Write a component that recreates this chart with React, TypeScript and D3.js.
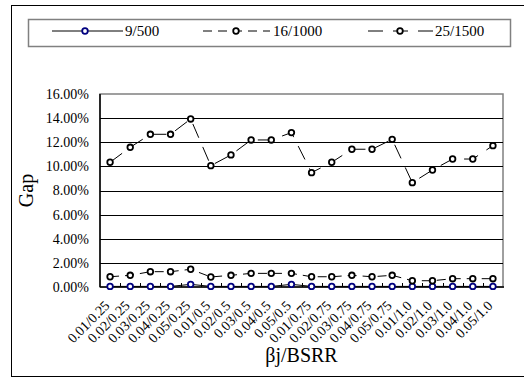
import React from "react";
import * as d3 from "d3";

const categories = [
  "0.01/0.25", "0.02/0.25", "0.03/0.25", "0.04/0.25", "0.05/0.25",
  "0.01/0.5", "0.02/0.5", "0.03/0.5", "0.04/0.5", "0.05/0.5",
  "0.01/0.75", "0.02/0.75", "0.03/0.75", "0.04/0.75", "0.05/0.75",
  "0.01/1.0", "0.02/1.0", "0.03/1.0", "0.04/1.0", "0.05/1.0",
];

// gap values in percent
const gap9_500 = [
  0.05, 0.05, 0.05, 0.05, 0.22, 0.05, 0.05, 0.05, 0.05, 0.22,
  0.05, 0.05, 0.05, 0.05, 0.05, 0.05, 0.05, 0.05, 0.05, 0.05,
];
const gap16_1000 = [
  0.85, 0.97, 1.27, 1.27, 1.47, 0.83, 0.97, 1.13, 1.13, 1.13,
  0.85, 0.85, 0.97, 0.85, 0.97, 0.52, 0.52, 0.69, 0.69, 0.69,
];
const gap25_1500 = [
  10.34, 11.58, 12.66, 12.66, 13.93, 10.06, 10.95, 12.19, 12.19, 12.8,
  9.48, 10.34, 11.42, 11.42, 12.24, 8.65, 9.7, 10.61, 10.61, 11.72,
];

const yTicks = [0, 2, 4, 6, 8, 10, 12, 14, 16];

const seriesList = [
  { name: "9/500", values: gap9_500, marker: "#000080", line: "#000", dash: "" },
  { name: "16/1000", values: gap16_1000, marker: "#000", line: "#000", dash: "9,6" },
  { name: "25/1500", values: gap25_1500, marker: "#000", line: "#000", dash: "15,10" },
];

const W = 524;
const H = 378;
const plot = { left: 100, right: 503, top: 94, bottom: 287 };
const FONT = "'Liberation Serif', 'Times New Roman', serif";

export default function App() {
  const x = d3
    .scaleBand<string>()
    .domain(categories)
    .range([plot.left, plot.right]);
  const y = d3.scaleLinear().domain([0, 16]).range([plot.bottom, plot.top]);

  const cx = (c: string) => (x(c) ?? 0) + x.bandwidth() / 2;

  const line = d3
    .line<number>()
    .x((_, i) => cx(categories[i]))
    .y((d) => y(d));

  // legend layout
  const legendItems = [
    { x1: 52, x2: 123, mx: 85, tx: 125 },
    { x1: 203, x2: 270, mx: 236, tx: 273 },
    { x1: 368, x2: 433, mx: 400, tx: 435 },
  ];
  const legendY = 31;

  return (
    <svg
      width={W}
      height={H}
      style={{ position: "absolute", left: 0, top: 0, background: "#fff" }}
      fontFamily={FONT}
    >
      {/* outer frame */}
      <rect x={11.5} y={5.5} width={520} height={371} fill="#fff" stroke="#000" strokeWidth={1} />

      {/* legend */}
      <rect x={28.5} y={19.5} width={482} height={27} fill="#fff" stroke="#808080" strokeWidth={1.5} />
      {seriesList.map((s, i) => {
        const it = legendItems[i];
        return (
          <g key={s.name}>
            <line
              x1={it.x1}
              x2={it.x2}
              y1={legendY}
              y2={legendY}
              stroke={s.line}
              strokeWidth={1}
              strokeDasharray={s.dash || undefined}
            />
            <circle cx={it.mx} cy={legendY} r={2.8} fill="#fff" stroke={s.marker} strokeWidth={1.8} />
            <text x={it.tx} y={legendY} dy="0.35em" fontSize={15}>
              {s.name}
            </text>
          </g>
        );
      })}

      {/* plot area */}
      <rect
        x={plot.left}
        y={plot.top}
        width={plot.right - plot.left}
        height={plot.bottom - plot.top}
        fill="#fff"
        stroke="#808080"
        strokeWidth={1.5}
      />
      {yTicks.slice(1, -1).map((t) => (
        <line
          key={t}
          x1={plot.left}
          x2={plot.right}
          y1={Math.round(y(t)) + 0.5}
          y2={Math.round(y(t)) + 0.5}
          stroke="#000"
          strokeWidth={1}
        />
      ))}

      {/* series lines */}
      {seriesList.map((s) => (
        <path
          key={s.name}
          d={line(s.values) ?? ""}
          fill="none"
          stroke={s.line}
          strokeWidth={1}
          strokeDasharray={s.dash || undefined}
        />
      ))}

      {/* axes */}
      <line x1={plot.left} x2={plot.left} y1={plot.top} y2={plot.bottom} stroke="#000" strokeWidth={1.5} />
      <line x1={plot.left} x2={plot.right + 1} y1={plot.bottom} y2={plot.bottom} stroke="#000" strokeWidth={1.5} />
      {categories.slice(1).map((c) => (
        <line
          key={c}
          x1={Math.round(x(c) ?? 0) + 0.5}
          x2={Math.round(x(c) ?? 0) + 0.5}
          y1={plot.bottom}
          y2={plot.bottom - 4}
          stroke="#000"
          strokeWidth={1}
        />
      ))}

      {/* markers */}
      {seriesList.map((s) =>
        s.values.map((v, i) => (
          <circle
            key={s.name + i}
            cx={cx(categories[i])}
            cy={y(v)}
            r={2.8}
            fill="#fff"
            stroke={s.marker}
            strokeWidth={1.8}
          />
        ))
      )}

      {/* y tick labels */}
      {yTicks.map((t) => (
        <text key={t} x={89} y={y(t)} dy="0.35em" textAnchor="end" fontSize={14}>
          {t.toFixed(2)}%
        </text>
      ))}

      {/* x tick labels */}
      {categories.map((c) => (
        <text
          key={c}
          transform={`translate(${cx(c) - 3},${plot.bottom + 16}) rotate(-45)`}
          textAnchor="end"
          dy="0.35em"
          fontSize={14}
        >
          {c}
        </text>
      ))}

      {/* axis titles */}
      <text
        transform={`translate(33,${(plot.top + plot.bottom) / 2}) rotate(-90)`}
        textAnchor="middle"
        fontSize={20}
      >
        Gap
      </text>
      <text x={(plot.left + plot.right) / 2} y={362} textAnchor="middle" fontSize={20}>
        βj/BSRR
      </text>
    </svg>
  );
}
